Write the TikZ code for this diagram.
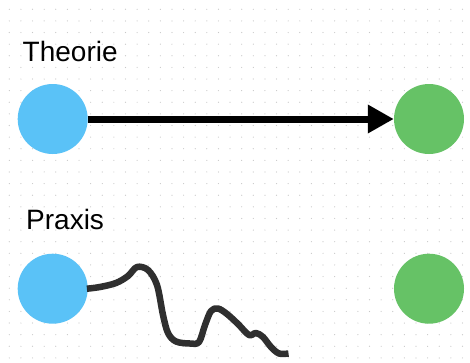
\documentclass[tikz,border=0pt]{standalone}
\usepackage{fontspec}
\setmainfont{Liberation Sans}
\usetikzlibrary{arrows.meta}
\definecolor{dotgray}{HTML}{C8C8C8}
\definecolor{skyblue}{HTML}{5AC2F7}
\definecolor{leafgreen}{HTML}{66C266}
\definecolor{inkblack}{HTML}{1E1E1E}
\tikzset{
  blob/.style={circle, minimum size=70pt, inner sep=0pt},
  theory/.style={blob, fill=skyblue},
  goal/.style={blob, fill=leafgreen},
  heading/.style={anchor=base west, inner sep=0pt, font=\fontsize{28}{32}\selectfont},
  straight/.style={line width=7pt, -{Triangle[length=26pt,width=27pt]}},
  wiggle/.style={line width=6.5pt, draw=inkblack, opacity=0.92, line join=round},
}
\begin{document}
\begin{tikzpicture}[x=1pt,y=-1pt]
  \useasboundingbox (0,0) rectangle (470,362);
  \fill[white] (0,0) rectangle (470,362);
  % dot grid
  \foreach \i in {0,...,39} {
    \foreach \j in {0,...,30} {
      \fill[dotgray] ({9.3+11.62*\i},{9.3+11.62*\j}) circle (0.6pt);
    }
  }
  \node[heading] (t1) at (22.5,61) {Theorie};
  \node[heading] (t2) at (26,229) {Praxis};
  \node[theory] (a1) at (52.7,119) {};
  \node[goal] (b1) at (429,119) {};
  \node[theory] (a2) at (52.7,288.7) {};
  \node[goal] (b2) at (429,288.7) {};
  \coordinate (wend) at (288.5,353.5);
  \draw[straight] (a1) -- (b1);
  \draw[wiggle] plot[smooth, tension=0.55] coordinates {
    ([xshift=-1pt]a2.east) (100,287) (116,283) (128,276) (137,267) (148,270) (157,285)
    (163,315) (168,333) (176,341.5) (190,343.5) (199,342) (205,325) (211,311) (218,308.5)
    (227,314) (238,324) (249,335) (256,333) (263,337) (271,347) (279,353.5) (wend)};
\end{tikzpicture}
\end{document}
